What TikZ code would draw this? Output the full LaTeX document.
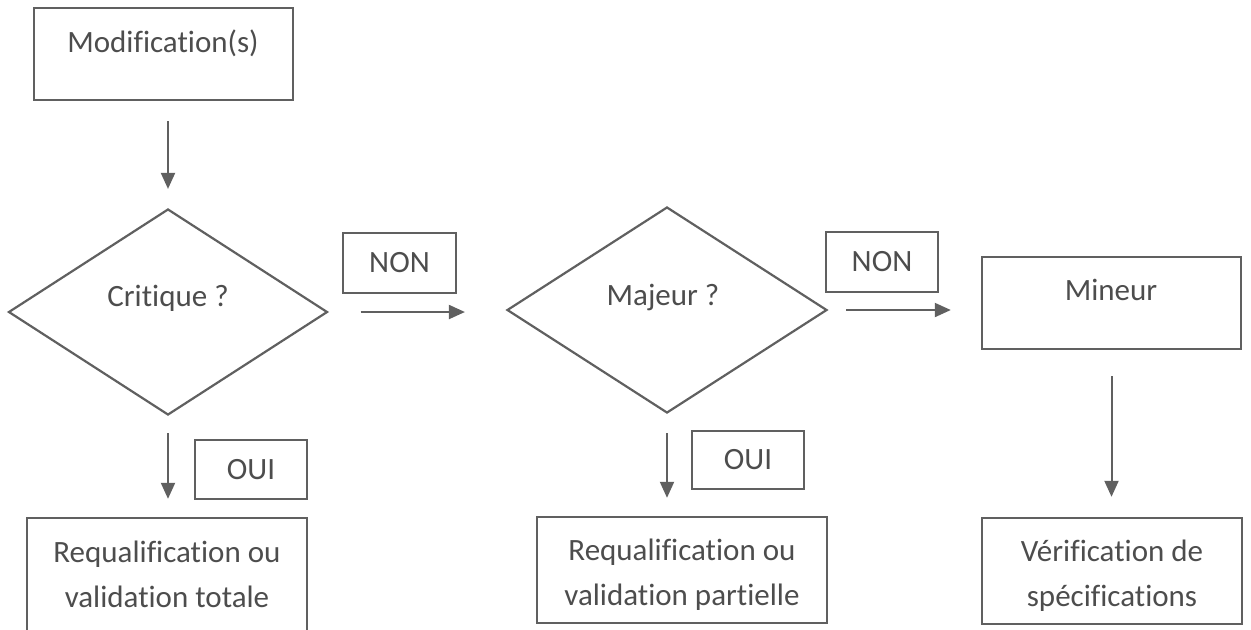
\documentclass[tikz,border=0pt]{standalone}
\usepackage{fontspec}
\setmainfont{Carlito}[Ligatures=NoCommon]
\usetikzlibrary{shapes.geometric,arrows.meta}
\definecolor{linecol}{HTML}{606060}
\definecolor{txtcol}{HTML}{4d4d4d}
\begin{document}
\begin{tikzpicture}[x=0.5pt,y=-0.5pt,
  box/.style={draw=linecol,line width=1.2pt,rectangle,inner sep=0pt,text=txtcol,align=center},
  choice/.style={draw=linecol,line width=1.1pt,diamond,inner sep=0pt},
  txt/.style={text=txtcol,inner sep=0pt,align=center},
  flow/.style={draw=linecol,line width=1pt,-{Triangle[length=8pt,width=7pt]}},
  every node/.style={font=\fontsize{15.5}{22.5}\selectfont}]
\path[use as bounding box,clip] (0,0) rectangle (1251,629);
%%
  % Node: mod
  \node[box,minimum width=129.5pt,minimum height=46pt] (mod) at (163.5,54) {};
  \node[txt] (modtxt) at (163,43) {Modification(s)};
  % Node: crit
  \node[choice,minimum width=159.5pt,minimum height=103pt] (crit) at (168,312) {};
  \node[txt] (crittxt) at (168,298) {Critique ?};
  % Node: maj
  \node[choice,minimum width=160pt,minimum height=103pt] (maj) at (667,310) {};
  \node[txt] (majtxt) at (663,297) {Majeur ?};
  % Node: mineur
  \node[box,minimum width=129.5pt,minimum height=46pt] (mineur) at (1111.5,303) {};
  \node[txt] (mineurtxt) at (1111,290) {Mineur};
  % Node: non / oui labels
  \node[box,minimum width=56.5pt,minimum height=30pt] (non1) at (399.5,263) {NON};
  \node[box,minimum width=56pt,minimum height=30pt] (non2) at (882,262) {NON};
  \node[box,minimum width=56pt,minimum height=29.5pt] (oui1) at (251,469.5) {OUI};
  \node[box,minimum width=56pt,minimum height=29pt] (oui2) at (748,460) {OUI};
  % Node: results
  \node[box,minimum width=140pt,minimum height=56.5pt] (res1) at (167,574.5) {Requalification ou\\validation totale};
  \node[box,minimum width=145pt,minimum height=53pt] (res2) at (682,570) {};
  \node[txt] (res2txt) at (682,575) {Requalification ou\\validation partielle};
  \node[box,minimum width=130pt,minimum height=53pt] (res3) at (1112,571) {};
  \node[txt] (res3txt) at (1112,576) {Vérification de\\spécifications};
%%
  % Edge: mod -> crit
  \draw[flow,shorten <=10pt,shorten >=9.5pt] (crit.north |- mod.south) -- (crit.north);
  % Edge: crit -> res1
  \draw[flow,shorten <=8.5pt,shorten >=9pt] (crit.south) -- (crit.south |- res1.north);
  % Edge: crit -> maj
  \draw[flow,shorten <=16pt,shorten >=20.5pt] (crit.east) -- (crit.east -| maj.west);
  % Edge: maj -> res2
  \draw[flow,shorten <=9.5pt,shorten >=9pt] (maj.south) -- (maj.south |- res2.north);
  % Edge: maj -> mineur
  \draw[flow,shorten <=9pt,shorten >=15pt] (maj.east) -- (maj.east -| mineur.west);
  % Edge: mineur -> res3
  \draw[flow,shorten <=13pt,shorten >=10pt] (mineur.south) -- (mineur.south |- res3.north);
%
\end{tikzpicture}
\end{document}
